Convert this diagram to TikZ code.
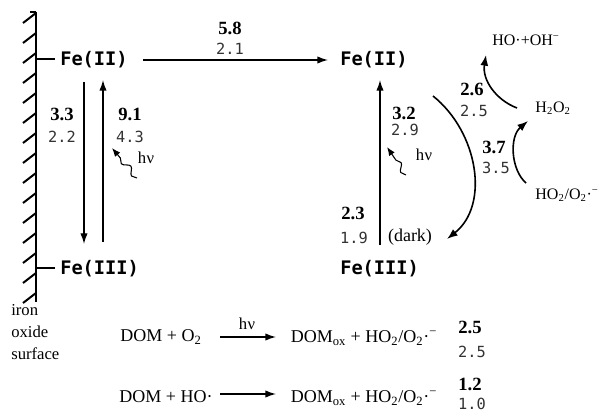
\documentclass[tikz,border=0pt]{standalone}
\usepackage{fontspec}
\setmainfont{Liberation Serif}
\newfontfamily\monof{DejaVu Sans Mono}
\usetikzlibrary{arrows.meta,decorations.pathmorphing}
\definecolor{numgray}{HTML}{333333}
\tikzset{
  fe/.style={font=\monof\bfseries\fontsize{14}{16}\selectfont, inner sep=0pt},
  bnum/.style={font=\bfseries\fontsize{14}{16}\selectfont, inner sep=0pt},
  lnum/.style={font=\monof\fontsize{11.5}{14}\selectfont, text=numgray, inner sep=0pt},
  txt/.style={font=\fontsize{12}{14}\selectfont, inner sep=0pt},
  rtxt/.style={font=\fontsize{13.5}{16}\selectfont, inner sep=0pt},
  small/.style={font=\fontsize{12.5}{14}\selectfont, inner sep=0pt},
  arr/.style={line width=1pt, -{Latex[length=8pt,width=5.5pt]}},
  carr/.style={line width=1.2pt, -{Latex[length=8pt,width=6pt]}},
  wavy/.style={line width=0.8pt, -{Latex[length=6.5pt,width=5pt]}, decorate,
    decoration={snake, amplitude=2.2pt, segment length=12pt, post length=6pt}},
  wall/.style={line width=2pt},
  hatch/.style={line width=1.5pt},
}
\newcommand{\hvtxt}{h\kern0.02em ν}
\begin{document}
\begin{tikzpicture}[x=0.75pt,y=-0.75pt]
\useasboundingbox (0,0) rectangle (604,413);
% wall
\draw[wall] (36,12) coordinate (wtop) -- (36,302) coordinate (wbot);
\foreach \y in {13,33,...,293} {
  \draw[hatch] (36,\y) -- (23,\y+10);
}
\draw[hatch] (36,12) -- (30,12);
% ticks
\draw[line width=1.3pt] (36,59) coordinate (t1) -- (55,59) coordinate (t1e);
\draw[line width=1.3pt] (36,268) coordinate (t2) -- (55,268) coordinate (t2e);
% left Fe
\node[fe, anchor=west] (feL2) at (60,60) {Fe(II)};
\node[fe, anchor=west] (feL3) at (60,269) {Fe(III)};
\coordinate (ld1) at (84,82); \coordinate (ld2) at (84,244);
\coordinate (lu1) at (103,242); \coordinate (lu2) at (103,80);
\draw[arr] (ld1) -- (ld2);
\draw[arr] (lu1) -- (lu2);
\node[bnum] (n33) at (62,114) {3.3};
\node[lnum] (n22) at (62,137) {2.2};
\node[bnum] (n91) at (130,114) {9.1};
\node[lnum] (n43) at (130,137) {4.3};
\node[small] (hv1) at (146,158) {\hvtxt};
\coordinate (w1a) at (137,178); \coordinate (w1b) at (112,148);
\draw[wavy] (w1a) -- (w1b);
% horizontal arrow
\coordinate (h1) at (143,60); \coordinate (h2) at (328,60);
\draw[arr] (h1) -- (h2);
\node[bnum] (n58) at (230,28) {5.8};
\node[lnum] (n21) at (230,49) {2.1};
% right Fe
\node[fe, anchor=west] (feR2) at (340,60) {Fe(II)};
\node[fe, anchor=west] (feR3) at (340,269) {Fe(III)};
\coordinate (ru1) at (380,245); \coordinate (ru2) at (380,80);
\draw[arr] (ru1) -- (ru2);
\node[bnum] (n32) at (404,113) {3.2};
\node[lnum] (n29) at (405,130) {2.9};
\node[small] (hv2) at (424,155) {\hvtxt};
\coordinate (w2a) at (406,175); \coordinate (w2b) at (387,147);
\draw[wavy] (w2a) -- (w2b);
\node[bnum] (n23) at (353,213) {2.3};
\node[lnum] (n19) at (354,238) {1.9};
\node[rtxt] (dark) at (410,237) {(dark)};
% big curved arrow
\coordinate (c1) at (433,96); \coordinate (c2) at (447,239);
\draw[carr] (c1) .. controls (478,132) and (490,205) .. (c2);
\node[bnum] (n26) at (472,89) {2.6};
\node[lnum] (n25) at (474,111) {2.5};
\node[bnum] (n37) at (494,147) {3.7};
\node[lnum] (n35) at (496,168) {3.5};
% species
\node[txt] (h2o2) at (553,108) {H\textsubscript{2}O\textsubscript{2}};
\node[txt] (hooh) at (526,40) {HO·+OH\textsuperscript{−}};
\node[txt] (ho2) at (567,195) {HO\textsubscript{2}/O\textsubscript{2}·\textsuperscript{−}};
\coordinate (a1) at (517,108); \coordinate (a2) at (486,55);
\draw[carr] (a1) .. controls (496,100) and (482,80) .. (a2);
\coordinate (b1) at (526,183); \coordinate (b2) at (528,121);
\draw[carr] (b1) .. controls (511,170) and (509,137) .. (b2);
% surface label
\node[anchor=north west, align=left, inner sep=0pt, font=\fontsize{12.5}{16.5}\selectfont] (surf) at (11,304) {iron\\oxide\\surface};
% bottom reactions
\node[rtxt] (r1l) at (161,337) {DOM + O\textsubscript{2}};
\coordinate (r1a) at (220,337); \coordinate (r1b) at (276,337);
\draw[arr] (r1a) -- (r1b);
\node[small] (hv3) at (247,324) {\hvtxt};
\node[rtxt] (r1r) at (364,338) {DOM\textsubscript{ox} + HO\textsubscript{2}/O\textsubscript{2}·\textsuperscript{−}};
\node[bnum] (n25b) at (470,327) {2.5};
\node[lnum] (n25c) at (472,352) {2.5};
\node[rtxt] (r2l) at (166,397) {DOM + HO·};
\coordinate (r2a) at (220,394); \coordinate (r2b) at (276,394);
\draw[arr] (r2a) -- (r2b);
\node[rtxt] (r2r) at (364,398) {DOM\textsubscript{ox} + HO\textsubscript{2}/O\textsubscript{2}·\textsuperscript{−}};
\node[bnum] (n12) at (470,384) {1.2};
\node[lnum] (n10) at (472,404) {1.0};
\end{tikzpicture}
\end{document}
